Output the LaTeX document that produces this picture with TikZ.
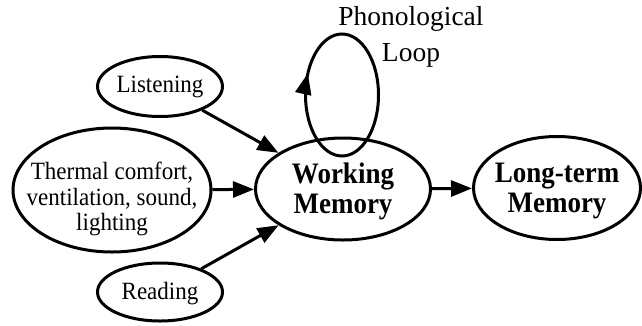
\documentclass[tikz,border=0pt]{standalone}
\usepackage{fontspec}
\setmainfont{Liberation Serif}
\usetikzlibrary{shapes.geometric,arrows.meta,decorations.markings}
\begin{document}
\begin{tikzpicture}[x=1pt,y=-1pt,
  oval/.style={draw=black,ellipse,line width=3pt,inner sep=0pt},
  txt/.style={align=center,inner sep=0pt},
  small/.style={yscale=1.08,font=\fontsize{23}{23.4}\selectfont},
  big/.style={yscale=1.1,font=\fontsize{27}{27.3}\selectfont\bfseries},
  conn/.style={line width=3pt,-{Triangle[length=21pt,width=16pt]}}]
\useasboundingbox (0,0) rectangle (642,325);
\node[oval,minimum width=125pt,minimum height=60pt] (L) at (160,86.5) {};
\node[txt,small] (Lt) at (160,87) {Listening};
\node[oval,minimum width=198pt,minimum height=124pt] (T) at (112,190) {};
\node[txt,small] (Tt) at (112,199) {Thermal comfort,\\ventilation, sound,\\lighting};
\node[oval,minimum width=125pt,minimum height=58pt] (R) at (160,292) {};
\node[txt,small] (Rt) at (160,294) {Reading};
\node[oval,minimum width=175pt,minimum height=102pt] (W) at (343,189) {};
\node[txt,big] (Wt) at (343,191) {Working\\Memory};
\node[oval,minimum width=167pt,minimum height=103pt] (LT) at (557,188) {};
\node[txt,big] (LTt) at (557,191) {Long-term\\Memory};
\node[inner sep=0pt,minimum width=73pt,minimum height=122pt] (loop) at (342,95) {};
\draw[line width=3pt,postaction=decorate,decoration={markings,mark=at position 0.43 with {\arrowreversed{Triangle[length=21pt,width=16pt]}}}] (loop.center) ellipse [x radius=36.5pt,y radius=61pt];
\node[txt,font=\fontsize{27.5}{36}\selectfont] (pl) at (411,37) {Phonological\\Loop};
\draw[conn] (L) -- (W);
\draw[conn] (T) -- (W);
\draw[conn] (R) -- (W);
\draw[conn] (W) -- (LT);
\end{tikzpicture}
\end{document}
